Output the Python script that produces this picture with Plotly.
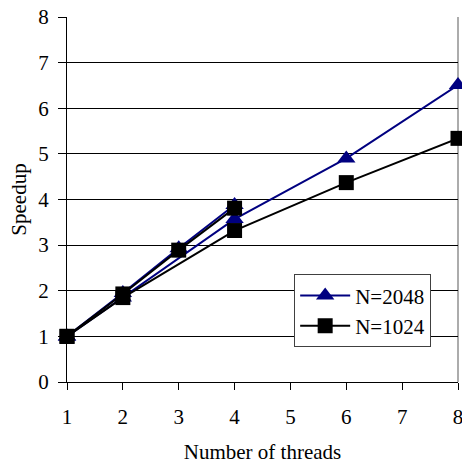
import plotly.graph_objects as go

# Data
threads_a = [1, 2, 3, 4]
speedup_2048_a = [1.0, 1.95, 2.93, 3.88]
speedup_1024_a = [1.0, 1.93, 2.89, 3.81]

threads_b = [1, 2, 4, 6, 8]
speedup_2048_b = [1.0, 1.85, 3.57, 4.90, 6.51]
speedup_1024_b = [1.0, 1.85, 3.32, 4.37, 5.34]

x_ticks = [1, 2, 3, 4, 5, 6, 7, 8]
y_ticks = [0, 1, 2, 3, 4, 5, 6, 7, 8]

NAVY = "#000080"
BLACK = "#000000"
FONT = "Times New Roman, Liberation Serif, Tinos, serif"
FS = 21

fig = go.Figure()

def add(x, y, name, color, symbol, size, show):
    fig.add_trace(go.Scatter(
        x=x, y=y, name=name, mode="lines+markers",
        line=dict(color=color, width=2),
        marker=dict(symbol=symbol, size=size, color=color),
        showlegend=show, cliponaxis=False, legendgroup=name,
    ))

add(threads_a, speedup_2048_a, "N=2048", NAVY, "triangle-up", 16, False)
add(threads_b, speedup_2048_b, "N=2048", NAVY, "triangle-up", 16, True)
add(threads_a, speedup_1024_a, "N=1024", BLACK, "square", 15, False)
add(threads_b, speedup_1024_b, "N=1024", BLACK, "square", 15, True)

fig.update_layout(
    width=462, height=464,
    margin=dict(l=67, r=4, t=17, b=82),
    paper_bgcolor="white", plot_bgcolor="white",
    font=dict(family=FONT, size=FS, color="black"),
    showlegend=True,
    legend=dict(
        x=0.581, y=0.295, xanchor="left", yanchor="top",
        bgcolor="white", bordercolor="#404040", borderwidth=1,
        font=dict(family=FONT, size=FS, color="black"),
        tracegroupgap=0, traceorder="grouped", itemwidth=50,
    ),
    shapes=[dict(type="line", xref="paper", yref="paper", x0=1, x1=1, y0=0, y1=1,
                 line=dict(color="#909090", width=1.5), layer="below")],
)

fig.update_xaxes(
    range=[1, 8], tickvals=x_ticks, showgrid=False, zeroline=False,
    showline=True, linecolor="black", linewidth=1, automargin=False,
    ticks="outside", ticklen=7, tickcolor="black", ticklabeloverflow="allow",
    ticklabelstandoff=9, tickfont=dict(size=FS),
    title=dict(text="Number of threads", standoff=20, font=dict(size=FS)),
)
fig.update_yaxes(
    range=[0, 8], tickvals=y_ticks, showgrid=True, gridcolor="black", gridwidth=1,
    zeroline=False, showline=True, linecolor="black", linewidth=1, automargin=False,
    ticks="outside", ticklen=8, tickcolor="black", ticklabelstandoff=5,
    tickfont=dict(size=FS),
    title=dict(text="Speedup", standoff=5, font=dict(size=FS)),
)

fig.write_html("out.html")
